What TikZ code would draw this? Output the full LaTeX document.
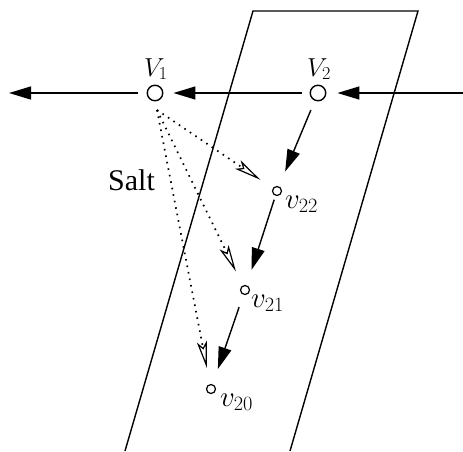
\RequirePackage{fix-cm}
\documentclass[tikz,border=0pt]{standalone}
\usepackage{fontspec}
\newfontfamily\saltfont{Liberation Serif}
\usetikzlibrary{arrows.meta}
\begin{document}
\begin{tikzpicture}[x=1pt,y=-1pt,
  bigv/.style={circle,draw,line width=1.4pt,minimum size=15.5pt,inner sep=0pt},
  smallv/.style={circle,draw,line width=1.2pt,minimum size=9pt,inner sep=0pt},
  flow/.style={line width=1.4pt,-{Triangle[length=22pt,width=13pt]}},
  saltarrow/.style={line width=1.7pt,dash pattern=on 1.6pt off 5pt,-{Stealth[open,length=27pt,width=10pt,inset=6pt,line width=1.2pt]}},
  biglab/.style={font=\fontsize{26}{30}\selectfont,inner sep=0pt,anchor=base},
  smalllab/.style={font=\fontsize{29}{34}\selectfont,inner sep=0pt,anchor=base west},
  band/.style={line width=1.4pt},
]
\useasboundingbox (0,0) rectangle (463,451);
% band
\coordinate (bl) at (125,451);
\coordinate (tl) at (253,11);
\coordinate (tr) at (418,11);
\coordinate (br) at (290,451);
\draw[band] (bl) -- (tl) -- (tr) -- (br);
% nodes
\node[bigv] (V1) at (155,93) {};
\node[bigv] (V2) at (318,93) {};
\node[smallv] (v22) at (277,191) {};
\node[smallv] (v21) at (245,290) {};
\node[smallv] (v20) at (211,389) {};
\coordinate (inR) at (463,93);
\coordinate (outL) at (9,93);
\coordinate (src) at (157,110);
% labels
\node[biglab] (lV1) at (156,76) {$V_1$};
\node[biglab] (lV2) at (319,76) {$V_2$};
\node[smalllab] (l22) at (285,208) {$v_{22}$};
\node[smalllab] (l21) at (251,307) {$v_{21}$};
\node[smalllab] (l20) at (220,406) {$v_{20}$};
\node[anchor=base west,inner sep=0pt,font=\saltfont\fontsize{30}{34}\selectfont] (salt) at (108,190) {Salt};
% main flow
\draw[flow,shorten >=11pt] (inR) -- (V2);
\draw[flow,shorten <=8pt,shorten >=10pt] (V2) -- (V1);
\draw[flow,shorten <=9pt] (V1) -- (outL);
% chain
\draw[flow,shorten <=10pt,shorten >=16pt] (V2) -- (v22);
\draw[flow,shorten <=4pt,shorten >=16pt] (v22) -- (v21);
\draw[flow,shorten <=13pt,shorten >=16pt] (v21) -- (v20);
% salt
\draw[saltarrow,shorten >=15pt] (src) -- (v22);
\draw[saltarrow,shorten >=15.5pt] (src) -- (v21);
\draw[saltarrow,shorten >=16pt] (src) -- (v20);
\end{tikzpicture}
\end{document}
